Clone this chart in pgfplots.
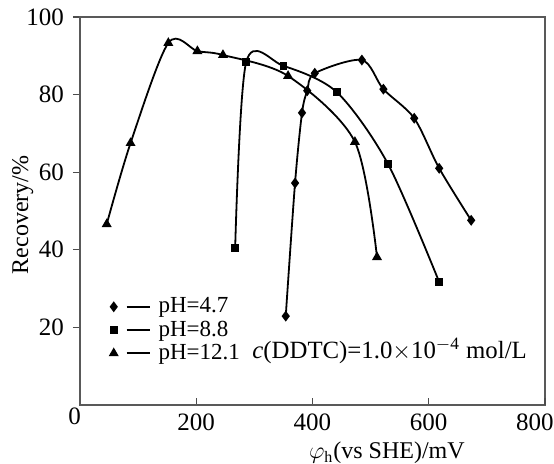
\documentclass[border=0pt]{standalone}
\usepackage{fontspec}
\setmainfont{Liberation Serif}
\usepackage{pgfplots}
\pgfplotsset{compat=1.18}

\begin{document}
\begin{tikzpicture}
\begin{axis}[scale only axis, width=232.5pt, height=194pt,
  xmin=0, xmax=800, ymin=0, ymax=100,
  axis line style={black!65, line width=0.8pt},
  xtick={200,400,600}, ytick={20,40,60,80,100},
  extra x ticks={800}, extra x tick style={xticklabel style={xshift=-5pt}},
  extra y ticks={0}, extra y tick style={yticklabel style={xshift=5pt, yshift=-5.5pt}, major tick length=0pt},
  xtick pos=bottom, ytick pos=left,
  x tick style={black!70, line width=0.6pt},
  y tick style={black!70, line width=0.6pt},
  xtick align=inside, ytick align=outside, major tick length=3.5pt,
  /pgf/number format/assume math mode=true,
  tick label style={font=\fontsize{12.5}{14}\selectfont},
  xticklabel style={yshift=-1pt},
  yticklabel style={xshift=-1pt},
  xlabel={$\varphi_{\mathrm{h}}$(vs SHE)/mV},
  ylabel={Recovery/\%},
  label style={font=\fontsize{12}{14}\selectfont},
  xlabel style={at={(axis description cs:0.66,-0.077)}, anchor=north},
  ylabel style={at={(axis description cs:-0.123,0.49)}, anchor=center},
  clip=false,
  legend style={draw=none, fill=none, at={(axis description cs:0.06,0.293)}, anchor=north west,
    font=\fontsize{11.5}{13}\selectfont, row sep=-1.5pt, column sep=2pt, inner sep=1pt},
  legend cell align=left,
  legend image code/.code={\draw[#1] plot coordinates {(0pt,0pt)};
    \draw[#1, mark=none] (6.5pt,0pt) -- (18pt,0pt);},
  every axis plot/.append style={black, line width=0.9pt, smooth, tension=0.5}]

\addplot[mark=diamond*, mark size=2pt] coordinates {
 (354,22.9) (370,57.2) (382,75.3) (391,81.0) (404,85.5) (485,88.9)
 (522,81.4) (575,73.9) (618,61.0) (673,47.6)};
\addlegendentry{pH=4.7}
\addplot[mark=square*, mark size=1.5pt] coordinates {
 (267,40.5) (286,88.4) (350,87.4) (442,80.6) (530,62.1) (618,31.7)};
\addlegendentry{pH=8.8}
\addplot[mark=triangle*, mark size=2pt] coordinates {
 (46,46.6) (87,67.5) (152,93.3) (202,91.2) (246,90.2) (358,84.8)
 (473,67.8) (511,38.1)};
\addlegendentry{pH=12.1}

\node[anchor=west, inner sep=0pt, font=\fontsize{12.4}{14}\selectfont] at (axis cs:296,13.9)
  {\textit{c}(DDTC)=1.0$\times$10\textsuperscript{$-$4} mol/L};
\coordinate (bbA) at (rel axis cs:-0.172,-0.152);
\coordinate (bbB) at (rel axis cs:1.0194,1.0438);
\end{axis}
\pgfresetboundingbox
\path[use as bounding box] (bbA) rectangle (bbB);
\end{tikzpicture}
\end{document}
